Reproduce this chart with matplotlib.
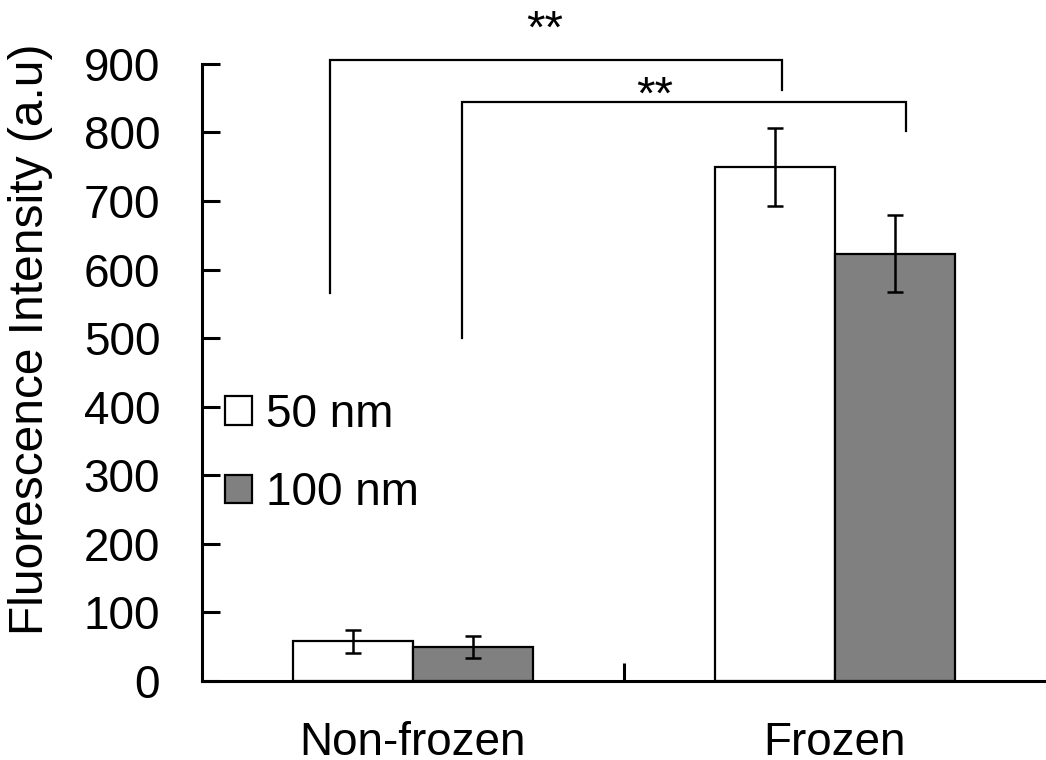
import matplotlib
matplotlib.use('Agg')
import matplotlib.pyplot as plt
from matplotlib.patches import Patch

# data
conditions = ['Non-frozen', 'Frozen']
sizes = ['50 nm', '100 nm']
mean_50 = [58, 750]
err_50 = [17, 57]
mean_100 = [50, 623]
err_100 = [16, 56]
bar_colors = ['white', '#808080']
yticks = [0, 100, 200, 300, 400, 500, 600, 700, 800, 900]

plt.rcParams['font.family'] = ['Liberation Sans', 'DejaVu Sans']
FS = 33


def draw_bracket(ax, x0, x1, y_left, y_top, y_right, label, label_x, label_y):
    ax.plot([x0, x0, x1, x1], [y_left, y_top, y_top, y_right],
            color='black', linewidth=1.6, clip_on=False, solid_joinstyle='miter')
    ax.text(label_x, label_y, label, ha='center', va='center', fontsize=34,
            clip_on=False)


def main():
    fig = plt.figure(figsize=(10.46, 7.6), dpi=100)
    ax = fig.add_axes([0.193, 0.104, 0.807, 0.812])

    width = 0.285
    xs = [0, 1]
    x50 = [x - width / 2 for x in xs]
    x100 = [x + width / 2 for x in xs]

    ekw = dict(elinewidth=1.8, capthick=1.8)
    ax.bar(x50, mean_50, width, yerr=err_50, color=bar_colors[0],
           edgecolor='black', linewidth=1.6, capsize=5.5, error_kw=ekw,
           label=sizes[0], zorder=2)
    ax.bar(x100, mean_100, width, yerr=err_100, color=bar_colors[1],
           edgecolor='black', linewidth=1.6, capsize=5.5, error_kw=ekw,
           label=sizes[1], zorder=2)

    ax.set_xlim(-0.5, 1.5)
    ax.set_ylim(0, 900)
    ax.set_yticks(yticks)
    ax.tick_params(axis='y', direction='in', length=13, width=2.2,
                   labelsize=FS, pad=30)

    # separator tick between groups, labels on minor ticks
    ax.set_xticks([0.5])
    ax.set_xticklabels([''])
    ax.tick_params(axis='x', which='major', direction='in', length=13, width=2.2)
    ax.set_xticks(xs, minor=True)
    ax.set_xticklabels(conditions, minor=True)
    ax.tick_params(axis='x', which='minor', length=0, labelsize=FS, pad=29)

    for side in ['top', 'right']:
        ax.spines[side].set_visible(False)
    for side in ['left', 'bottom']:
        ax.spines[side].set_linewidth(2.2)

    ax.set_ylabel('Fluorescence Intensity (a.u)', fontsize=34.5)
    ax.yaxis.set_label_coords(-0.176, 0.553)

    handles = [Patch(facecolor=c, edgecolor='black', linewidth=1.6)
               for c in bar_colors]
    ax.legend(handles, sizes, loc='upper left', bbox_to_anchor=(0.006, 0.497),
              frameon=False, fontsize=FS, handlelength=0.58, handleheight=0.58,
              handletextpad=0.3, labelspacing=0.75, borderaxespad=0.2,
              borderpad=0.2)

    draw_bracket(ax, -0.197, 0.874, 566, 906, 862, '**', 0.313, 948)
    draw_bracket(ax, 0.116, 1.168, 500, 845, 802, '**', 0.573, 852)

    fig.savefig('out.png', dpi=100)


if __name__ == '__main__':
    main()
